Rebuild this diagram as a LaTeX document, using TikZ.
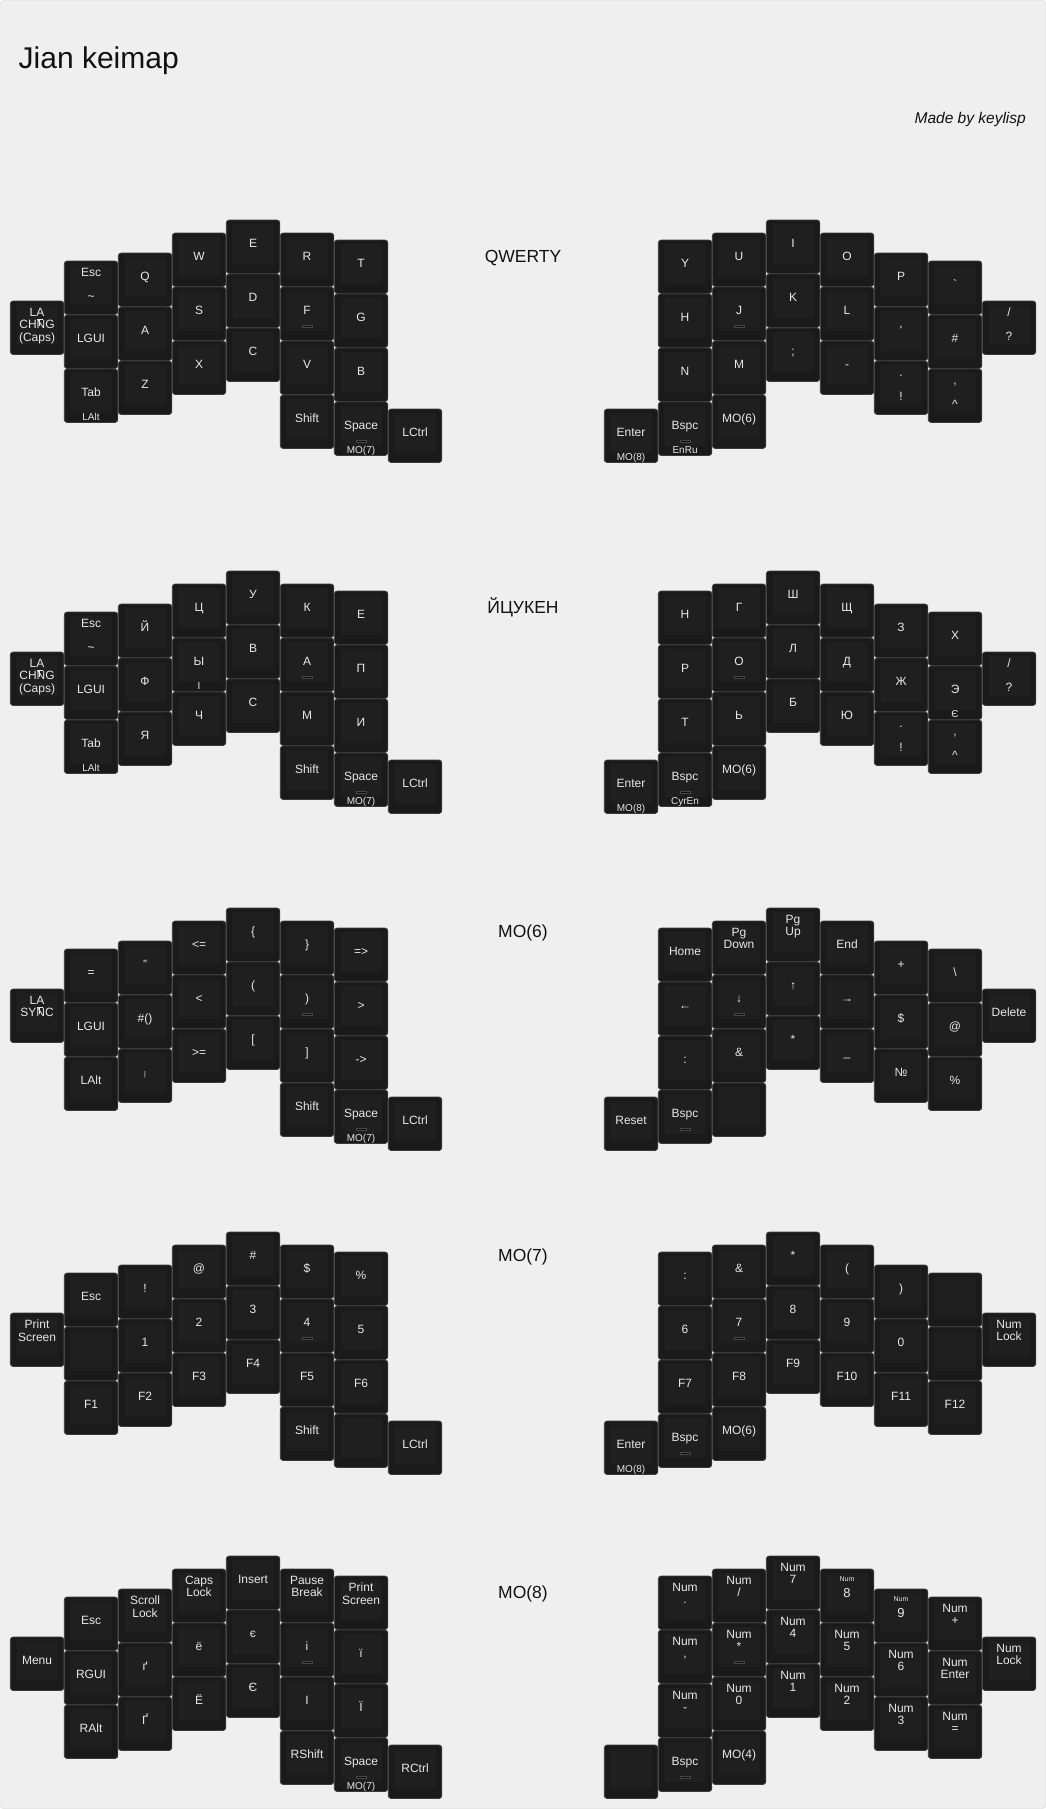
\documentclass[tikz,border=0pt]{standalone}
\usepackage{fontspec}
\setmainfont{Liberation Sans}

\definecolor{pagebg}{HTML}{EFEFEF}
\definecolor{pageedge}{HTML}{D2D2D2}
\definecolor{keybase}{HTML}{1A1A1A}
\definecolor{keyface}{HTML}{1F1F1F}
\definecolor{keyedge}{HTML}{3A3A3A}
\definecolor{keytext}{HTML}{E8E8E8}
\definecolor{inktext}{HTML}{111111}

% key with one legend
\newcommand{\keyone}[4]{%
  \node[key] (#1) at (#2+26.75,#3+26.75) {};
  \node[legend] (#1-a) at (#2+26.75,#3+27.8) {#4};}
% key without legend
\newcommand{\keyblank}[3]{%
  \node[key] (#1) at (#2+26.75,#3+26.75) {};}
% key with shifted pair
\newcommand{\keytwo}[5]{%
  \node[key] (#1) at (#2+26.75,#3+26.75) {};
  \node[legend] (#1-a) at (#2+26.75,#3+15.3) {#4};
  \node[legend] (#1-b) at (#2+26.75,#3+39.8) {#5};}
% key with tap and hold
\newcommand{\keyhold}[5]{%
  \node[key] (#1) at (#2+26.75,#3+26.75) {};
  \node[legend] (#1-a) at (#2+26.75,#3+27.8) {#4};
  \node[holdlegend] (#1-b) at (#2+26.75,#3+51) {#5};}
% key with legend on several lines
\newcommand{\keylines}[4]{%
  \node[key] (#1) at (#2+26.75,#3+26.75) {};
  \node[lines] (#1-a) at (#2+26.75,#3+6.7) {#4};}
% numpad key, small Num over big digit
\newcommand{\keynum}[4]{%
  \node[key] (#1) at (#2+26.75,#3+26.75) {};
  \node[tinylegend] (#1-a) at (#2+26.75,#3+12.8) {Num};
  \node[biglegend] (#1-b) at (#2+26.75,#3+28.4) {#4};}
% homing bar
\newcommand{\homebar}[1]{%
  \draw[homing] ([xshift=-5pt,yshift=-38pt]#1.north) rectangle ([xshift=5pt,yshift=-40.5pt]#1.north);}
% mark over the N
\newcommand{\nmark}[1]{%
  \draw[legendmark] ([xshift=-0.25pt,yshift=-18.5pt]#1.north) -- ([xshift=5.75pt,yshift=-18.5pt]#1.north)
    ([xshift=2.75pt,yshift=-18.5pt]#1.north) -- ([xshift=2.75pt,yshift=-24.5pt]#1.north);}

\begin{document}
\begin{tikzpicture}[
	x=1pt, y=-1pt,
	key/.style={draw=keyedge, line width=0.8pt, fill=keybase, rounded corners=3pt, minimum width=53.5pt, minimum height=53.5pt, inner sep=0pt, outer sep=0pt,
		path picture={\fill[keyface, rounded corners=2pt] ([xshift=6pt,yshift=-4pt]path picture bounding box.north west) rectangle ([xshift=-6pt,yshift=9.5pt]path picture bounding box.south east);}},
	legend/.style={anchor=base, inner sep=0pt, text=keytext, font=\fontsize{12}{12.5}\selectfont},
	holdlegend/.style={legend, font=\fontsize{10}{11}\selectfont},
	tinylegend/.style={legend, font=\fontsize{7}{7}\selectfont},
	biglegend/.style={legend, font=\fontsize{13}{13}\selectfont},
	lines/.style={anchor=north, align=center, inner sep=0pt, text=keytext, font=\fontsize{12}{12.5}\selectfont},
	homing/.style={fill=black!95, draw=black!72, line width=0.5pt},
	legendmark/.style={draw=keytext, line width=0.7pt},
	layertitle/.style={anchor=base, inner sep=0pt, text=inktext, font=\fontsize{17.5}{20}\selectfont}
]
\useasboundingbox (0,0) rectangle (1046,1809);
\draw[pageedge, fill=pagebg, rounded corners=3pt] (0.5,0.5) rectangle (1045.5,1808.5);

% header
\node[anchor=base west, inner sep=0pt, text=inktext, font=\fontsize{30}{34}\selectfont] (title) at (18.5,68.3) {Jian keimap};
\node[anchor=base east, inner sep=0pt, text=inktext, font=\itshape\fontsize{15.5}{18}\selectfont] (credit) at (1026,124) {Made by keylisp};

% ---------- QWERTY ----------
\begin{scope}[shift={(0,220)}]
\node[layertitle] (qwT) at (523,42) {QWERTY};
% left half
\keylines{qwL00}{10.3}{81}{LA\\CHNG\\(Caps)}
\nmark{qwL00}
\keytwo{qwL10}{64.3}{41}{Esc}{\textasciitilde}
\keyone{qwL11}{64.3}{95}{LGUI}
\keyhold{qwL12}{64.3}{149}{Tab}{LAlt}
\keyone{qwL20}{118.3}{33}{Q}
\keyone{qwL21}{118.3}{87}{A}
\keyone{qwL22}{118.3}{141}{Z}
\keyone{qwL30}{172.3}{13}{W}
\keyone{qwL31}{172.3}{67}{S}
\keyone{qwL32}{172.3}{121}{X}
\keyone{qwL40}{226.3}{0}{E}
\keyone{qwL41}{226.3}{54}{D}
\keyone{qwL42}{226.3}{108}{C}
\keyone{qwL50}{280.3}{13}{R}
\keyone{qwL51}{280.3}{67}{F}
\keyone{qwL52}{280.3}{121}{V}
\keyone{qwL53}{280.3}{175}{Shift}
\keyone{qwL60}{334.3}{20}{T}
\keyone{qwL61}{334.3}{74}{G}
\keyone{qwL62}{334.3}{128}{B}
\keyhold{qwL63}{334.3}{182}{Space}{MO(7)}
\keyone{qwL70}{388.3}{189}{LCtrl}
\homebar{qwL51}
\homebar{qwL63}
% right half
\keyhold{qwR00}{604.3}{189}{Enter}{MO(8)}
\keyone{qwR10}{658.3}{20}{Y}
\keyone{qwR11}{658.3}{74}{H}
\keyone{qwR12}{658.3}{128}{N}
\keyhold{qwR13}{658.3}{182}{Bspc}{EnRu}
\keyone{qwR20}{712.3}{13}{U}
\keyone{qwR21}{712.3}{67}{J}
\keyone{qwR22}{712.3}{121}{M}
\keyone{qwR23}{712.3}{175}{MO(6)}
\keyone{qwR30}{766.3}{0}{I}
\keyone{qwR31}{766.3}{54}{K}
\keyone{qwR32}{766.3}{108}{;}
\keyone{qwR40}{820.3}{13}{O}
\keyone{qwR41}{820.3}{67}{L}
\keyone{qwR42}{820.3}{121}{-}
\keyone{qwR50}{874.3}{33}{P}
\keyone{qwR51}{874.3}{87}{\textquotesingle}
\keytwo{qwR52}{874.3}{141}{.}{!}
\keyone{qwR60}{928.3}{41}{\textasciigrave}
\keyone{qwR61}{928.3}{95}{\#}
\keytwo{qwR62}{928.3}{149}{,}{\textasciicircum}
\keytwo{qwR70}{982.3}{81}{/}{?}
\homebar{qwR21}
\homebar{qwR13}
\end{scope}

% ---------- ЙЦУКЕН ----------
\begin{scope}[shift={(0,571)}]
\node[layertitle] (cyT) at (523,42) {ЙЦУКЕН};
% left half
\keylines{cyL00}{10.3}{81}{LA\\CHNG\\(Caps)}
\nmark{cyL00}
\keytwo{cyL10}{64.3}{41}{Esc}{\textasciitilde}
\keyone{cyL11}{64.3}{95}{LGUI}
\keyhold{cyL12}{64.3}{149}{Tab}{LAlt}
\keyone{cyL20}{118.3}{33}{Й}
\keyone{cyL21}{118.3}{87}{Ф}
\keyone{cyL22}{118.3}{141}{Я}
\keyone{cyL30}{172.3}{13}{Ц}
\keyhold{cyL31}{172.3}{67}{Ы}{І}
\keyone{cyL32}{172.3}{121}{Ч}
\keyone{cyL40}{226.3}{0}{У}
\keyone{cyL41}{226.3}{54}{В}
\keyone{cyL42}{226.3}{108}{С}
\keyone{cyL50}{280.3}{13}{К}
\keyone{cyL51}{280.3}{67}{А}
\keyone{cyL52}{280.3}{121}{М}
\keyone{cyL53}{280.3}{175}{Shift}
\keyone{cyL60}{334.3}{20}{Е}
\keyone{cyL61}{334.3}{74}{П}
\keyone{cyL62}{334.3}{128}{И}
\keyhold{cyL63}{334.3}{182}{Space}{MO(7)}
\keyone{cyL70}{388.3}{189}{LCtrl}
\homebar{cyL51}
\homebar{cyL63}
% right half
\keyhold{cyR00}{604.3}{189}{Enter}{MO(8)}
\keyone{cyR10}{658.3}{20}{Н}
\keyone{cyR11}{658.3}{74}{Р}
\keyone{cyR12}{658.3}{128}{Т}
\keyhold{cyR13}{658.3}{182}{Bspc}{CyrEn}
\keyone{cyR20}{712.3}{13}{Г}
\keyone{cyR21}{712.3}{67}{О}
\keyone{cyR22}{712.3}{121}{Ь}
\keyone{cyR23}{712.3}{175}{MO(6)}
\keyone{cyR30}{766.3}{0}{Ш}
\keyone{cyR31}{766.3}{54}{Л}
\keyone{cyR32}{766.3}{108}{Б}
\keyone{cyR40}{820.3}{13}{Щ}
\keyone{cyR41}{820.3}{67}{Д}
\keyone{cyR42}{820.3}{121}{Ю}
\keyone{cyR50}{874.3}{33}{З}
\keyone{cyR51}{874.3}{87}{Ж}
\keytwo{cyR52}{874.3}{141}{.}{!}
\keyone{cyR60}{928.3}{41}{Х}
\keyhold{cyR61}{928.3}{95}{Э}{Є}
\keytwo{cyR62}{928.3}{149}{,}{\textasciicircum}
\keytwo{cyR70}{982.3}{81}{/}{?}
\homebar{cyR21}
\homebar{cyR13}
\end{scope}

% ---------- MO(6) ----------
\begin{scope}[shift={(0,908)}]
\node[layertitle] (syT) at (523,29) {MO(6)};
% left half
\keylines{syL00}{10.3}{81}{LA\\SYNC}
\nmark{syL00}
\keyone{syL10}{64.3}{41}{=}
\keyone{syL11}{64.3}{95}{LGUI}
\keyone{syL12}{64.3}{149}{LAlt}
\keyone{syL20}{118.3}{33}{"}
\keyone{syL21}{118.3}{87}{\#()}
\keyone{syL22}{118.3}{141}{{\fontsize{7}{7}\selectfont|}}
\keyone{syL30}{172.3}{13}{<=}
\keyone{syL31}{172.3}{67}{<}
\keyone{syL32}{172.3}{121}{>=}
\keyone{syL40}{226.3}{0}{\{}
\keyone{syL41}{226.3}{54}{(}
\keyone{syL42}{226.3}{108}{[}
\keyone{syL50}{280.3}{13}{\}}
\keyone{syL51}{280.3}{67}{)}
\keyone{syL52}{280.3}{121}{]}
\keyone{syL53}{280.3}{175}{Shift}
\keyone{syL60}{334.3}{20}{=>}
\keyone{syL61}{334.3}{74}{>}
\keyone{syL62}{334.3}{128}{->}
\keyhold{syL63}{334.3}{182}{Space}{MO(7)}
\keyone{syL70}{388.3}{189}{LCtrl}
\homebar{syL51}
\homebar{syL63}
% right half
\keyone{syR00}{604.3}{189}{Reset}
\keyone{syR10}{658.3}{20}{Home}
\keyone{syR11}{658.3}{74}{←}
\keyone{syR12}{658.3}{128}{:}
\keyone{syR13}{658.3}{182}{Bspc}
\keylines{syR20}{712.3}{13}{Pg\\Down}
\keyone{syR21}{712.3}{67}{↓}
\keyone{syR22}{712.3}{121}{\&}
\keyblank{syR23}{712.3}{175}
\keylines{syR30}{766.3}{0}{Pg\\Up}
\keyone{syR31}{766.3}{54}{↑}
\keyone{syR32}{766.3}{108}{*}
\keyone{syR40}{820.3}{13}{End}
\keyone{syR41}{820.3}{67}{→}
\keyone{syR42}{820.3}{121}{\_}
\keyone{syR50}{874.3}{33}{+}
\keyone{syR51}{874.3}{87}{\$}
\keyone{syR52}{874.3}{141}{№}
\keyone{syR60}{928.3}{41}{\textbackslash}
\keyone{syR61}{928.3}{95}{@}
\keyone{syR62}{928.3}{149}{\%}
\keyone{syR70}{982.3}{81}{Delete}
\homebar{syR21}
\homebar{syR13}
\end{scope}

% ---------- MO(7) ----------
\begin{scope}[shift={(0,1232)}]
\node[layertitle] (fnT) at (523,29) {MO(7)};
% left half
\keylines{fnL00}{10.3}{81}{Print\\Screen}
\keyone{fnL10}{64.3}{41}{Esc}
\keyblank{fnL11}{64.3}{95}
\keyone{fnL12}{64.3}{149}{F1}
\keyone{fnL20}{118.3}{33}{!}
\keyone{fnL21}{118.3}{87}{1}
\keyone{fnL22}{118.3}{141}{F2}
\keyone{fnL30}{172.3}{13}{@}
\keyone{fnL31}{172.3}{67}{2}
\keyone{fnL32}{172.3}{121}{F3}
\keyone{fnL40}{226.3}{0}{\#}
\keyone{fnL41}{226.3}{54}{3}
\keyone{fnL42}{226.3}{108}{F4}
\keyone{fnL50}{280.3}{13}{\$}
\keyone{fnL51}{280.3}{67}{4}
\keyone{fnL52}{280.3}{121}{F5}
\keyone{fnL53}{280.3}{175}{Shift}
\keyone{fnL60}{334.3}{20}{\%}
\keyone{fnL61}{334.3}{74}{5}
\keyone{fnL62}{334.3}{128}{F6}
\keyblank{fnL63}{334.3}{182}
\keyone{fnL70}{388.3}{189}{LCtrl}
\homebar{fnL51}
% right half
\keyhold{fnR00}{604.3}{189}{Enter}{MO(8)}
\keyone{fnR10}{658.3}{20}{:}
\keyone{fnR11}{658.3}{74}{6}
\keyone{fnR12}{658.3}{128}{F7}
\keyone{fnR13}{658.3}{182}{Bspc}
\keyone{fnR20}{712.3}{13}{\&}
\keyone{fnR21}{712.3}{67}{7}
\keyone{fnR22}{712.3}{121}{F8}
\keyone{fnR23}{712.3}{175}{MO(6)}
\keyone{fnR30}{766.3}{0}{*}
\keyone{fnR31}{766.3}{54}{8}
\keyone{fnR32}{766.3}{108}{F9}
\keyone{fnR40}{820.3}{13}{(}
\keyone{fnR41}{820.3}{67}{9}
\keyone{fnR42}{820.3}{121}{F10}
\keyone{fnR50}{874.3}{33}{)}
\keyone{fnR51}{874.3}{87}{0}
\keyone{fnR52}{874.3}{141}{F11}
\keyblank{fnR60}{928.3}{41}
\keyblank{fnR61}{928.3}{95}
\keyone{fnR62}{928.3}{149}{F12}
\keylines{fnR70}{982.3}{81}{Num\\Lock}
\homebar{fnR21}
\homebar{fnR13}
\end{scope}

% ---------- MO(8) ----------
\begin{scope}[shift={(0,1556)}]
\node[layertitle] (nmT) at (523,42) {MO(8)};
% left half
\keyone{nmL00}{10.3}{81}{Menu}
\keyone{nmL10}{64.3}{41}{Esc}
\keyone{nmL11}{64.3}{95}{RGUI}
\keyone{nmL12}{64.3}{149}{RAlt}
\keylines{nmL20}{118.3}{33}{Scroll\\Lock}
\keyone{nmL21}{118.3}{87}{ґ}
\keyone{nmL22}{118.3}{141}{Ґ}
\keylines{nmL30}{172.3}{13}{Caps\\Lock}
\keyone{nmL31}{172.3}{67}{ё}
\keyone{nmL32}{172.3}{121}{Ё}
\keyone{nmL40}{226.3}{0}{Insert}
\keyone{nmL41}{226.3}{54}{є}
\keyone{nmL42}{226.3}{108}{Є}
\keylines{nmL50}{280.3}{13}{Pause\\Break}
\keyone{nmL51}{280.3}{67}{і}
\keyone{nmL52}{280.3}{121}{І}
\keyone{nmL53}{280.3}{175}{RShift}
\keylines{nmL60}{334.3}{20}{Print\\Screen}
\keyone{nmL61}{334.3}{74}{ї}
\keyone{nmL62}{334.3}{128}{Ї}
\keyhold{nmL63}{334.3}{182}{Space}{MO(7)}
\keyone{nmL70}{388.3}{189}{RCtrl}
\homebar{nmL51}
\homebar{nmL63}
% right half
\keyblank{nmR00}{604.3}{189}
\keylines{nmR10}{658.3}{20}{Num\\.}
\keylines{nmR11}{658.3}{74}{Num\\,}
\keylines{nmR12}{658.3}{128}{Num\\-}
\keyone{nmR13}{658.3}{182}{Bspc}
\keylines{nmR20}{712.3}{13}{Num\\/}
\keylines{nmR21}{712.3}{67}{Num\\{}*}
\keylines{nmR22}{712.3}{121}{Num\\0}
\keyone{nmR23}{712.3}{175}{MO(4)}
\keylines{nmR30}{766.3}{0}{Num\\7}
\keylines{nmR31}{766.3}{54}{Num\\4}
\keylines{nmR32}{766.3}{108}{Num\\1}
\keynum{nmR40}{820.3}{13}{8}
\keylines{nmR41}{820.3}{67}{Num\\5}
\keylines{nmR42}{820.3}{121}{Num\\2}
\keynum{nmR50}{874.3}{33}{9}
\keylines{nmR51}{874.3}{87}{Num\\6}
\keylines{nmR52}{874.3}{141}{Num\\3}
\keylines{nmR60}{928.3}{41}{Num\\+}
\keylines{nmR61}{928.3}{95}{Num\\Enter}
\keylines{nmR62}{928.3}{149}{Num\\=}
\keylines{nmR70}{982.3}{81}{Num\\Lock}
\homebar{nmR21}
\homebar{nmR13}
\end{scope}
\end{tikzpicture}
\end{document}
